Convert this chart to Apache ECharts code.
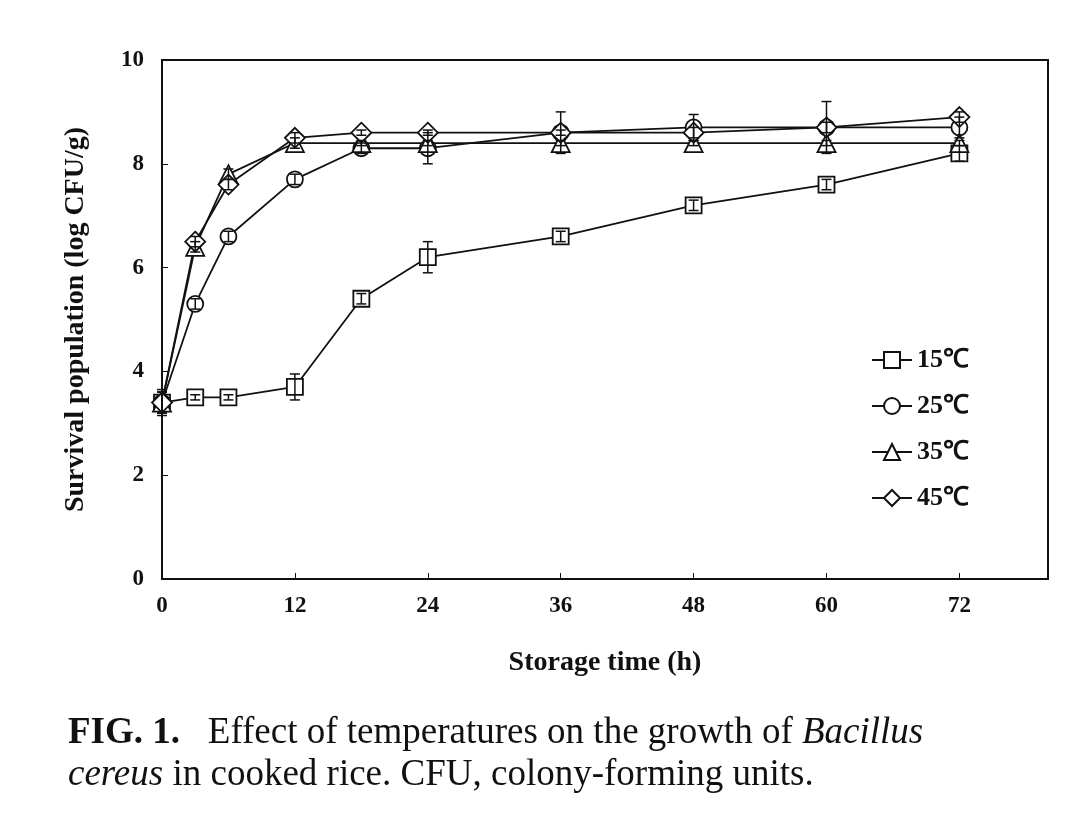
<!doctype html>
<html>
<head>
<meta charset="utf-8">
<script src="https://cdn.jsdelivr.net/npm/echarts@6/dist/echarts.min.js"></script>
<style>html,body{margin:0;background:#fff}#c{width:1080px;height:818px}</style>
</head>
<body>
<div id="c"></div>
<script>
var hours = [0, 3, 6, 12, 18, 24, 36, 48, 60, 72];
var names = ['15℃', '25℃', '35℃', '45℃'];
var v15 = [3.4, 3.5, 3.5, 3.7, 5.4, 6.2, 6.6, 7.2, 7.6, 8.2];
var v25 = [3.4, 5.3, 6.6, 7.7, 8.3, 8.3, 8.6, 8.7, 8.7, 8.7];
var v35 = [3.4, 6.4, 7.8, 8.4, 8.4, 8.4, 8.4, 8.4, 8.4, 8.4];
var v45 = [3.4, 6.5, 7.6, 8.5, 8.6, 8.6, 8.6, 8.6, 8.7, 8.9];
var e15 = [0.25, 0.05, 0.05, 0.25, 0.1, 0.3, 0.1, 0.1, 0.1, 0.15];
var e25 = [0.2, 0.1, 0.1, 0.1, 0.1, 0.3, 0.4, 0.25, 0.5, 0.2];
var e35 = [0.2, 0.1, 0.1, 0.1, 0.05, 0.05, 0.05, 0.05, 0.05, 0.05];
var e45 = [0.2, 0.1, 0.1, 0.1, 0.05, 0.05, 0.05, 0.1, 0.1, 0.1];
var symbols = ['rect', 'circle', 'triangle', 'diamond'];

var chart = echarts.init(document.getElementById('c'));
var vals = [v15, v25, v35, v45], errs = [e15, e25, e35, e45];
var series = [];
vals.forEach(function (v, k) {
  series.push({
    name: names[k], type: 'line', data: hours.map(function (h, i) { return [h, v[i]]; }),
    symbol: symbols[k], symbolSize: k == 2 ? 18 : (k == 3 ? 20 : 16),
    itemStyle: { color: '#fff', borderColor: '#111', borderWidth: 1.8 },
    lineStyle: { color: '#111', width: 1.8 }, z: 3
  });
  series.push({
    type: 'custom', z: 4, silent: true,
    data: hours.map(function (h, i) { return [h, v[i] - errs[k][i], v[i] + errs[k][i]]; }),
    renderItem: function (params, api) {
      var lo = api.coord([api.value(0), api.value(1)]);
      var hi = api.coord([api.value(0), api.value(2)]);
      var w = 5, st = { stroke: '#111', lineWidth: 1.5 };
      return { type: 'group', children: [
        { type: 'line', shape: { x1: lo[0], y1: lo[1], x2: hi[0], y2: hi[1] }, style: st },
        { type: 'line', shape: { x1: lo[0] - w, y1: lo[1], x2: lo[0] + w, y2: lo[1] }, style: st },
        { type: 'line', shape: { x1: hi[0] - w, y1: hi[1], x2: hi[0] + w, y2: hi[1] }, style: st }
      ] };
    }
  });
});

chart.setOption({
  animation: false,
  grid: { left: 162, right: 32, top: 60, bottom: 239, show: true, borderColor: '#111', borderWidth: 2 },
  legend: {
    data: names, orient: 'vertical', left: 866, top: 342, itemGap: 20, itemWidth: 40, itemHeight: 20,
    textStyle: { fontFamily: 'Liberation Serif', fontSize: 26, fontWeight: 'bold', color: '#111' }
  },
  xAxis: {
    type: 'value', min: 0, max: 80, interval: 12,
    axisLine: { lineStyle: { color: '#111', width: 2 } },
    axisTick: { inside: true, length: 6, lineStyle: { color: '#111' } },
    splitLine: { show: false },
    axisLabel: { fontFamily: 'Liberation Serif', fontSize: 23, fontWeight: 'bold', color: '#111', margin: 16,
      formatter: function (v) { return v <= 72 ? v : ''; } },
    name: 'Storage time (h)', nameLocation: 'middle', nameGap: 70,
    nameTextStyle: { fontFamily: 'Liberation Serif', fontSize: 28, fontWeight: 'bold', color: '#111' }
  },
  yAxis: {
    type: 'value', min: 0, max: 10, interval: 2,
    axisLine: { lineStyle: { color: '#111', width: 2 } },
    axisTick: { inside: true, length: 6, lineStyle: { color: '#111' } },
    splitLine: { show: false },
    axisLabel: { fontFamily: 'Liberation Serif', fontSize: 23, fontWeight: 'bold', color: '#111', margin: 18 },
    name: 'Survival population (log CFU/g)', nameLocation: 'middle', nameGap: 72,
    nameTextStyle: { fontFamily: 'Liberation Serif', fontSize: 28, fontWeight: 'bold', color: '#111' }
  },
  graphic: [{
    type: 'text', left: 68, top: 712,
    style: {
      text: '{b|FIG. 1.}   Effect of temperatures on the growth of {i|Bacillus}\n{i|cereus} in cooked rice. CFU, colony-forming units.',
      fontFamily: 'Liberation Serif', fontSize: 37, fill: '#111', lineHeight: 42,
      rich: { b: { fontWeight: 'bold', fontSize: 37, fontFamily: 'Liberation Serif' },
              i: { fontStyle: 'italic', fontSize: 37, fontFamily: 'Liberation Serif' } }
    }
  }],
  series: series
});
</script>
</body>
</html>
